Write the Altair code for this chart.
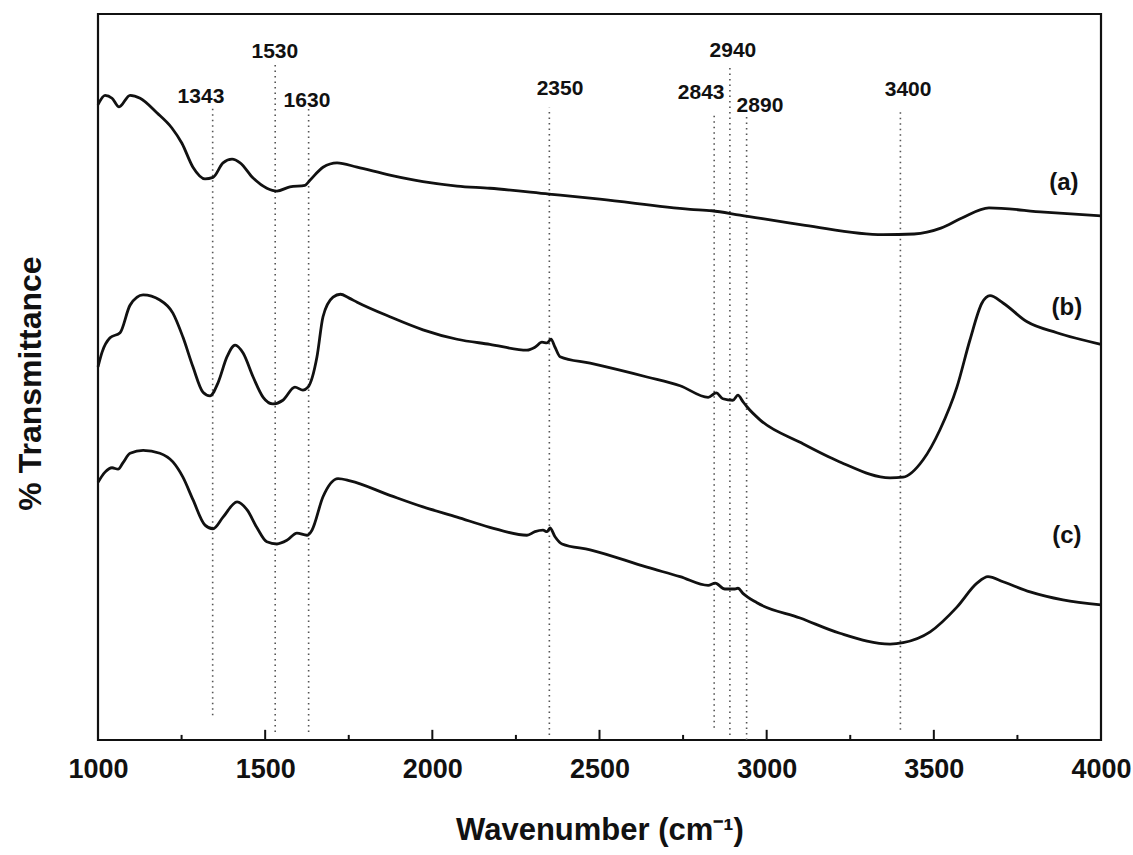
import altair as alt
import pandas as pd

# ---- curve data (wavenumber, % transmittance in arbitrary units) ----
wn_a = [1000, 1021, 1042, 1063, 1096, 1126, 1176, 1221, 1251, 1284, 1320, 1344, 1374, 1401, 1425,
        1464, 1505, 1535, 1574, 1619, 1634, 1673, 1715, 1775, 1873, 1972, 2074, 2172, 2349, 2501,
        2771, 2836, 2920, 3115, 3348, 3441, 3521, 3584, 3665, 3830, 4000]
t_a = [87.5, 88.8, 88.4, 87.2, 88.8, 88.4, 86.4, 84.3, 82.2, 78.9, 77.3, 77.5, 79.5, 80.0, 79.5,
       77.4, 76.0, 75.6, 76.2, 76.4, 77.1, 78.9, 79.5, 78.9, 77.8, 76.9, 76.3, 76.0, 75.2, 74.5,
       73.1, 72.9, 72.3, 70.9, 69.6, 69.7, 70.5, 71.9, 73.3, 72.7, 72.2]

wn_b = [1000, 1012, 1036, 1066, 1096, 1135, 1185, 1224, 1254, 1284, 1314, 1335, 1359, 1386, 1410,
        1434, 1464, 1494, 1523, 1553, 1589, 1613, 1628, 1655, 1673, 1703, 1725, 1750, 1775, 1873,
        1972, 2074, 2172, 2283, 2307, 2328, 2343, 2355, 2367, 2382, 2472, 2642, 2741, 2825, 2849,
        2869, 2899, 2914, 2929, 2941, 2980, 3100, 3219, 3369, 3408, 3468, 3518, 3569, 3608, 3644,
        3668, 3707, 3779, 3868, 4000]
t_b = [51.4, 53.4, 55.4, 56.1, 59.9, 61.3, 60.6, 58.8, 55.5, 51.4, 47.9, 47.4, 49.2, 52.8, 54.4,
       53.3, 50.0, 47.2, 46.3, 46.8, 48.6, 48.2, 48.6, 52.8, 58.3, 61.0, 61.4, 60.9, 60.3, 58.3,
       56.5, 55.2, 54.5, 53.7, 54.1, 54.8, 54.7, 55.2, 54.1, 52.8, 51.9, 50.0, 48.8, 47.2, 47.8,
       47.0, 46.8, 47.5, 46.6, 45.9, 44.1, 41.0, 38.3, 36.1, 36.2, 38.6, 42.7, 48.6, 55.1, 60.2,
       61.2, 60.2, 57.6, 56.1, 54.5]

wn_c = [1000, 1021, 1042, 1060, 1075, 1096, 1135, 1185, 1224, 1254, 1284, 1320, 1344, 1374, 1416,
        1446, 1476, 1505, 1535, 1565, 1595, 1625, 1640, 1673, 1718, 1754, 1873, 1972, 2074, 2172,
        2283, 2307, 2331, 2343, 2352, 2367, 2388, 2472, 2642, 2741, 2825, 2846, 2875, 2905, 2914,
        2929, 2971, 3100, 3219, 3369, 3408, 3489, 3569, 3629, 3662, 3707, 3788, 3886, 4000]
t_c = [35.5, 36.9, 37.5, 37.3, 38.2, 39.5, 39.9, 39.5, 38.3, 36.2, 33.1, 29.6, 29.1, 30.7, 32.8,
       31.7, 29.2, 27.3, 27.0, 27.5, 28.5, 28.2, 28.9, 33.5, 36.0, 35.7, 33.7, 32.1, 30.7, 29.3,
       28.2, 28.7, 28.9, 28.7, 29.2, 28.0, 27.0, 26.2, 23.8, 22.5, 21.3, 21.6, 20.8, 20.8, 20.9,
       20.2, 18.9, 16.8, 14.7, 13.2, 13.4, 14.9, 18.3, 21.6, 22.5, 21.8, 20.4, 19.3, 18.6]

# ---- reference (dotted) lines ----
peak_wn = [1343, 1530, 1630, 2350, 2843, 2890, 2940, 3400]
peak_top = [87.1, 93.0, 87.1, 87.1, 86.5, 92.7, 86.1, 86.8]
peak_bottom = [3.4, 1.1, 1.1, 0.7, 1.7, 0.7, 0.0, 1.4]

# ---- peak labels ----
lab_text = ["1343", "1530", "1630", "2350", "2843", "2940", "2890", "3400"]
lab_x = [1308, 1529, 1625, 2382, 2804, 2899, 2980, 3423]
lab_y = [87.7, 93.9, 87.2, 88.8, 88.3, 94.1, 86.5, 88.7]

# ---- series labels ----
ser_text = ["(a)", "(b)", "(c)"]
ser_x = [3889, 3898, 3898]
ser_y = [75.8, 58.5, 27.1]

# ---- axis ticks ----
tick_values = [1000, 1500, 2000, 2500, 3000, 3500, 4000]
tick_pos = [1250, 1500, 1750, 2000, 2250, 2500, 2750, 3000, 3250, 3500, 3750]
tick_len = [0.7, 1.4, 0.7, 1.4, 0.7, 1.4, 0.7, 1.4, 0.7, 1.4, 0.7]

FONT = "Liberation Sans"

curves = pd.concat([
    pd.DataFrame({"wn": wn_a, "T": t_a, "s": "a"}),
    pd.DataFrame({"wn": wn_b, "T": t_b, "s": "b"}),
    pd.DataFrame({"wn": wn_c, "T": t_c, "s": "c"}),
])
peaks = pd.DataFrame({"wn": peak_wn, "top": peak_top, "bot": peak_bottom})
labs = pd.DataFrame({"x": lab_x, "y": lab_y, "t": lab_text})
sers = pd.DataFrame({"x": ser_x, "y": ser_y, "t": ser_text})
ticks = pd.DataFrame({"x": tick_pos, "y0": [0.0] * len(tick_pos), "y1": tick_len})

xs = alt.Scale(domain=[1000, 4000], nice=False, zero=False)
ys = alt.Scale(domain=[0, 100], nice=False)

xaxis = alt.Axis(values=tick_values, format="d", ticks=False, tickSize=0, domain=False, grid=False,
                 labelFontSize=27, labelFont=FONT, labelFontWeight="bold", labelColor="#111",
                 labelPadding=16, labelFlush=False, labelOverlap=False,
                 title="Wavenumber (cm⁻¹)", titleFont=FONT, titleFontSize=31, titleFontWeight="bold",
                 titleColor="#111", titleBaseline="middle", titleY=90)
yaxis = alt.Axis(labels=False, ticks=False, domain=False, grid=False,
                 title="% Transmittance", titleFont=FONT, titleFontSize=32, titleFontWeight="bold",
                 titleColor="#111", titleAngle=270, titleBaseline="middle", titleAlign="center",
                 titleX=-68, titleY=369)

lines = alt.Chart(curves).mark_line(color="#111", strokeWidth=2.8, interpolate="monotone").encode(
    x=alt.X("wn:Q", scale=xs, axis=xaxis),
    y=alt.Y("T:Q", scale=ys, axis=yaxis),
    detail="s:N",
)

rules = alt.Chart(peaks).mark_rule(color="#555", strokeWidth=1.6, strokeDash=[1.5, 4]).encode(
    x=alt.X("wn:Q", scale=xs),
    y=alt.Y("bot:Q", scale=ys),
    y2="top:Q",
)

tickmarks = alt.Chart(ticks).mark_rule(color="#111", strokeWidth=2).encode(
    x=alt.X("x:Q", scale=xs),
    y=alt.Y("y0:Q", scale=ys),
    y2="y1:Q",
)

peak_text = alt.Chart(labs).mark_text(font=FONT, fontSize=21, fontWeight="bold", color="#111",
                                      align="center", baseline="alphabetic").encode(
    x=alt.X("x:Q", scale=xs), y=alt.Y("y:Q", scale=ys), text="t:N")

ser_label = alt.Chart(sers).mark_text(font=FONT, fontSize=24, fontWeight="bold", color="#111",
                                      align="center", baseline="alphabetic").encode(
    x=alt.X("x:Q", scale=xs), y=alt.Y("y:Q", scale=ys), text="t:N")

chart = alt.layer(rules, tickmarks, lines, peak_text, ser_label).properties(
    width=1003, height=726,
    autosize=alt.AutoSizeParams(type="none"),
    padding={"left": 98, "top": 14, "right": 32, "bottom": 115},
    background="white",
).configure_view(stroke="#111", strokeWidth=2.2)

chart.save("out.html", embed_options={"renderer": "svg", "actions": False})
